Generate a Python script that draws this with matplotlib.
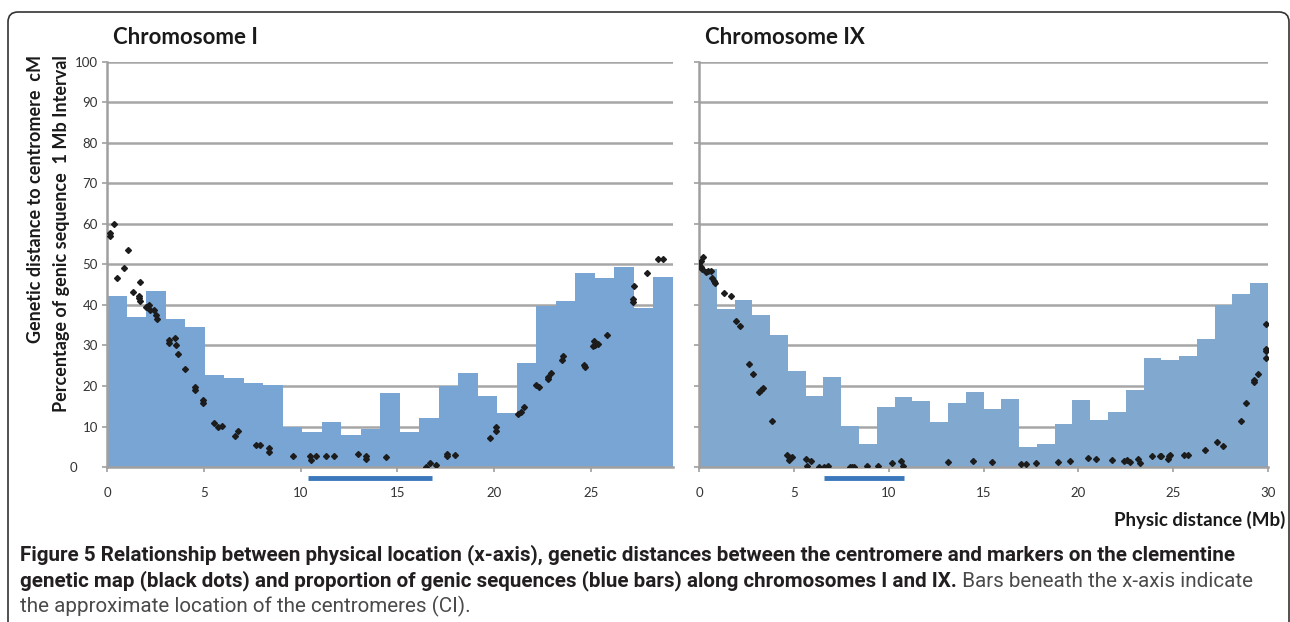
import numpy as np
import matplotlib.pyplot as plt
from matplotlib.patches import FancyBboxPatch
from matplotlib.transforms import IdentityTransform, ScaledTranslation

# percentage of genic sequence per 1 Mb interval (blue bars)
chr1_pct = [42.2, 37.1, 43.4, 36.6, 34.6, 22.6, 21.9, 20.7, 20.2, 9.8,
            8.6, 11.2, 8.0, 9.4, 18.3, 8.6, 12.0, 19.9, 23.3, 17.6,
            13.3, 25.7, 39.8, 41.1, 47.9, 46.7, 49.3, 39.2, 46.9]
chr9_pct = [48.9, 39.0, 41.2, 37.6, 32.7, 23.7, 17.5, 22.1, 10.1, 5.8,
            14.7, 17.3, 16.3, 11.2, 15.8, 18.5, 14.3, 16.8, 5.0, 5.8,
            10.7, 16.5, 11.6, 13.6, 19.0, 26.8, 26.5, 27.3, 31.7, 40.0,
            42.7, 45.4]

# genetic distance to centromere (black dots)
chr1_x = [0.35, 0.17, 0.17, 1.07, 0.88, 0.54, 1.70, 1.35, 1.63, 1.64,
          1.68, 2.16, 2.02, 2.20, 2.42, 2.54, 2.58, 3.20, 3.20, 3.51,
          3.56, 3.69, 4.03, 4.55, 4.55, 4.97, 4.97, 5.54, 5.74, 5.92,
          6.76, 6.64, 7.70, 7.89, 8.39, 8.39, 9.62, 10.48, 10.55, 10.80,
          11.33, 11.71, 12.99, 13.39, 13.39, 14.43, 16.47, 16.71, 17.02, 17.59,
          17.59, 18.00, 19.80, 20.08, 20.08, 21.25, 21.37, 21.53, 22.15, 22.31,
          22.81, 22.93, 22.81, 23.50, 23.57, 24.64, 24.71, 25.12, 25.19, 25.36,
          25.22, 25.83, 27.18, 27.18, 27.23, 27.92, 28.47, 28.75]
chr1_cm = [59.9, 57.8, 57.0, 53.5, 49.1, 46.7, 45.6, 43.1, 42.3, 41.8,
           41.1, 40.1, 39.5, 38.7, 38.7, 37.5, 36.5, 31.4, 30.5, 31.9,
           30.0, 28.0, 24.3, 19.8, 18.9, 16.6, 15.7, 10.8, 10.0, 10.2,
           8.9, 7.7, 5.4, 5.4, 4.8, 3.7, 2.6, 2.6, 1.8, 2.6,
           2.6, 2.6, 3.2, 2.6, 2.0, 2.4, 0.0, 1.1, 0.5, 3.2,
           2.6, 3.0, 7.2, 8.8, 9.9, 13.0, 13.6, 14.8, 20.3, 19.7,
           21.7, 23.2, 22.3, 26.3, 27.3, 25.1, 24.6, 29.8, 31.2, 30.4,
           30.1, 32.5, 41.5, 40.8, 44.6, 47.9, 51.4, 51.4]

chr9_x = [0.00, 0.10, 0.23, 0.09, 0.18, 0.39, 0.47, 0.62, 0.70, 0.79,
          0.83, 1.32, 1.70, 1.95, 2.14, 2.64, 2.86, 3.16, 3.25, 3.37,
          3.87, 4.66, 4.73, 4.92, 4.78, 5.66, 5.90, 5.71, 6.31, 6.57,
          6.82, 7.94, 8.07, 8.17, 8.86, 9.42, 10.19, 10.65, 10.77, 13.11,
          14.45, 15.46, 16.99, 17.24, 17.75, 18.91, 19.58, 20.51, 20.95, 21.76,
          22.41, 22.59, 22.75, 23.12, 23.24, 23.91, 24.30, 24.38, 24.79, 24.74,
          24.82, 25.56, 25.77, 26.67, 27.29, 27.61, 28.59, 28.82, 29.26, 29.26,
          29.45, 29.88, 29.88, 29.88, 29.88]
chr9_cm = [49.8, 50.9, 51.9, 49.4, 49.0, 48.2, 48.5, 48.3, 46.7, 46.0,
           45.5, 42.9, 42.2, 36.1, 34.7, 25.5, 23.0, 18.6, 18.9, 19.5,
           11.4, 3.0, 1.8, 2.4, 2.2, 2.0, 1.4, 0.2, 0.0, 0.0,
           0.2, 0.0, 0.1, 0.0, 0.2, 0.2, 0.9, 1.4, 0.2, 1.2,
           1.4, 1.2, 0.7, 0.7, 1.0, 1.2, 1.4, 2.2, 2.0, 1.7,
           1.5, 1.8, 1.2, 2.0, 1.0, 2.8, 2.8, 2.8, 2.6, 2.0,
           3.0, 3.0, 3.0, 4.2, 6.1, 5.3, 11.4, 15.8, 21.6, 21.1,
           23.0, 35.3, 29.2, 28.6, 27.0]

# approximate centromere location (Mb)
chr1_cen = [10.4, 16.8]
chr9_cen = [6.6, 10.8]

xticks = [0, 5, 10, 15, 20, 25, 30]
yticks = [0, 10, 20, 30, 40, 50, 60, 70, 80, 90, 100]

plt.rcParams['font.family'] = ['Lato', 'DejaVu Sans']

fig = plt.figure(figsize=(12.9, 6.22), dpi=100)
ax1 = fig.add_axes([107/1290, 155/622, 566/1290, 405/622])
ax2 = fig.add_axes([699/1290, 155/622, 569/1290, 405/622])

panels = [(ax1, chr1_pct, chr1_x, chr1_cm, chr1_cen, 29.25, '#79a5d5', 'Chromosome I'),
          (ax2, chr9_pct, chr9_x, chr9_cm, chr9_cen, 30.0, '#81a8cf', 'Chromosome IX')]

for ax, pct, mx, cm, cen, xmax, col, title in panels:
    n = len(pct)
    w = xmax / n
    ax.bar(np.arange(n) * w, pct, width=w, align='edge', color=col, zorder=2)
    ax.plot(mx, cm, 'D', color='#1c1c1c', markersize=3.0, zorder=3)
    ax.plot(cen, [-2.8, -2.8], color='#3a78bb', lw=3.5, solid_capstyle='butt',
            clip_on=False, zorder=4)
    ax.set_xlim(0, xmax)
    ax.set_ylim(0, 100)
    ax.set_xticks([t for t in xticks if t <= xmax])
    ax.set_yticks(yticks)
    ax.yaxis.grid(True, color='#a6a6a6', lw=1.8, zorder=0)
    ax.set_axisbelow(True)
    for s in ['top', 'right']:
        ax.spines[s].set_visible(False)
    for s in ['left', 'bottom']:
        ax.spines[s].set_color('#a0a0a0')
        ax.spines[s].set_linewidth(1.8)
    ax.tick_params(axis='both', colors='#a0a0a0', labelcolor='#333333',
                   labelsize=9.5, length=3.5, width=1.2)
    ax.tick_params(axis='x', pad=11)
    ax.tick_params(axis='y', pad=3)
    ax.text(0.01, 1.06, title, transform=ax.transAxes, fontsize=16,
            fontweight='bold', color='#1a1a1a', va='center', ha='left')

ax1.set_yticklabels([str(t) for t in yticks])
lbl0 = ax1.get_yticklabels()[0]
lbl0.set_transform(lbl0.get_transform() + ScaledTranslation(-15/72, 0, fig.dpi_scale_trans))
ax2.set_yticklabels([])
ax2.text(1.03, -0.13, 'Physic distance (Mb)', transform=ax2.transAxes, fontsize=13.5,
         fontweight='bold', color='#1a1a1a', ha='right', va='center')

fig.text(36/1290, 1 - 55/622, 'Genetic distance to centromere  cM', rotation=90,
         fontsize=13, fontweight='bold', color='#1a1a1a', ha='center', va='top')
fig.text(62/1290, 1 - 55/622, 'Percentage of genic sequence  1 Mb Interval', rotation=90,
         fontsize=13, fontweight='bold', color='#1a1a1a', ha='center', va='top')

# caption
cap_font = ['Liberation Sans Narrow', 'Roboto', 'DejaVu Sans']
cap_size = 14.9
fig.text(20/1290, 1 - 555/622,
         'Figure 5 Relationship between physical location (x-axis), genetic distances between '
         'the centromere and markers on the clementine',
         family=cap_font, fontsize=cap_size, fontweight='bold', color='#231f20', va='center')
t2 = fig.text(20/1290, 1 - 581/622,
              'genetic map (black dots) and proportion of genic sequences (blue bars) along '
              'chromosomes I and IX.',
              family=cap_font, fontsize=cap_size, fontweight='bold', color='#231f20', va='center')
ax1.annotate(' Bars beneath the x-axis indicate', xy=(1, 0), xycoords=t2, va='bottom',
             ha='left', family=cap_font, fontsize=cap_size, color='#4a4a4a',
             annotation_clip=False)
fig.text(20/1290, 1 - 606/622, 'the approximate location of the centromeres (CI).',
         family=cap_font, fontsize=cap_size, color='#4a4a4a', va='center')

# rounded frame
frame = FancyBboxPatch((8, -30), 1281, 640, boxstyle='round,pad=0,rounding_size=10',
                       transform=IdentityTransform(), fill=False, ec='#333333', lw=1.2)
fig.add_artist(frame)

fig.savefig('out.png', dpi=100)
